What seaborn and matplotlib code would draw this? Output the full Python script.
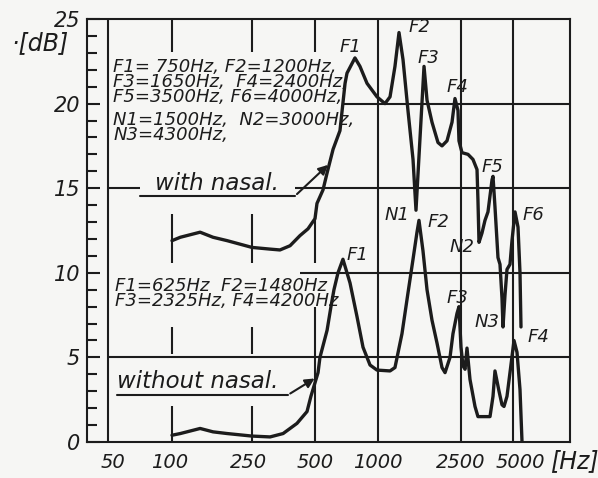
import numpy as np
import matplotlib
matplotlib.use('Agg')
import matplotlib.pyplot as plt
import matplotlib.transforms as mtrans
import seaborn as sns

# ---- data (frequency in Hz, level in dB) ----
freq_nasal = [100, 110, 138, 160, 188, 250, 305, 340, 380, 424, 463, 500, 511, 546,
              571, 610, 658, 696, 711, 776, 820, 886, 989, 1080, 1142, 1206, 1261,
              1318, 1392, 1472, 1521, 1589, 1662, 1718, 1815, 1939, 2027, 2142, 2264,
              2339, 2418, 2445, 2533, 2745, 2933, 3095, 3134, 3178, 3307, 3442, 3582,
              3781, 3830, 3932, 4039, 4093, 4204, 4318, 4376, 4495, 4615, 4803, 4933,
              5124, 5314, 5444, 5510]
db_nasal = [11.9, 12.1, 12.4, 12.1, 11.9, 11.5, 11.4, 11.35, 11.6, 12.2, 12.6, 13.2, 14.1, 14.9,
            15.9, 17.3, 18.4, 21.2, 21.8, 22.7, 22.2, 21.2, 20.4, 20.0, 20.4, 22.2, 24.2,
            22.6, 19.6, 16.7, 13.7, 17.9, 22.2, 20.2, 18.9, 17.7, 17.5, 17.8, 18.9,
            20.3, 19.6, 17.8, 17.1, 17.0, 16.7, 16.1, 14.3, 11.8, 12.35, 13.1, 13.6,
            15.5, 15.7, 13.9, 11.9, 10.9, 10.5, 8.5, 6.8, 8.7, 10.2, 10.5, 11.9,
            13.6, 12.7, 10.0, 6.8]

freq_plain = [100, 110, 138, 160, 188, 250, 305, 352, 410, 458, 478, 517, 528, 571,
              596, 616, 644, 680, 735, 794, 848, 916, 989, 1142, 1206, 1303, 1392,
              1472, 1538, 1572, 1643, 1718, 1815, 1918, 2027, 2096, 2214, 2288, 2392,
              2445, 2500, 2567, 2638, 2708, 2818, 3013, 3134, 3680, 3830, 3932, 4150,
              4318, 4435, 4615, 4803, 5061, 5250, 5444, 5580]
db_plain = [0.4, 0.5, 0.8, 0.6, 0.5, 0.35, 0.3, 0.5, 1.1, 1.8, 2.7, 4.1, 5.0, 6.6,
            8.0, 9.0, 10.0, 10.8, 9.4, 7.4, 5.6, 4.55, 4.25, 4.2, 4.4, 6.4, 8.8,
            10.8, 12.4, 13.1, 11.3, 9.0, 7.2, 5.85, 4.4, 4.1, 5.0, 6.4, 7.6,
            8.0, 5.6, 4.5, 4.3, 5.55, 3.7, 2.1, 1.5, 1.5, 2.7, 4.2, 3.0,
            2.2, 2.1, 2.7, 4.1, 6.0, 5.3, 3.1, 0.0]

tick_freqs = [50, 100, 250, 500, 1000, 2500, 5000]
tick_labels = ['50', '100', '250', '500', '1000', '2500', '5000']
tick_shift = [5, -2, -4, 0, 0, 0, 7]  # hand lettering sits a bit off the lines

# hand drawn frequency axis: roughly logarithmic, spacing as in the original
axis_freqs = [40, 50, 100, 250, 500, 1000, 2500, 5000, 10000]
axis_pos = [87, 108, 172, 252, 315, 378, 461, 513, 570]
log_f = np.log10(axis_freqs)


def fwd(x):
    x = np.clip(np.asarray(x, dtype=float), 1e-6, None)
    return np.interp(np.log10(x), log_f, axis_pos)


def inv(p):
    return 10 ** np.interp(np.asarray(p, dtype=float), axis_pos, log_f)


sns.set_style('white')
plt.rcParams['font.family'] = ['DejaVu Sans']
paper = '#f6f6f4'
ink = '#1c1c1c'

fig = plt.figure(figsize=(5.98, 4.78), dpi=100, facecolor=paper)
ax = fig.add_axes([87 / 598, 36 / 478, 483 / 598, 423 / 478])
ax.set_facecolor(paper)
ax.set_xscale('function', functions=(fwd, inv))
ax.set_xlim(40, 10000)
ax.set_ylim(0, 25)

# grid, drawn in pieces where the lettering covers it
glw = 1.5
ax.vlines(50, 0, 25, color=ink, lw=glw)
for f in [1000, 2500, 5000]:
    ax.vlines(f, 0, 25, color=ink, lw=glw)
for f in [100, 250]:
    for lo, hi in [(23.05, 25), (10.6, 13.5), (5.2, 6.8), (0, 2.1)]:
        ax.vlines(f, lo, hi, color=ink, lw=glw)
for lo, hi in [(23.05, 25), (10.6, 13.3), (0, 8.0)]:
    ax.vlines(500, lo, hi, color=ink, lw=glw)
ax.hlines(5, 50, 10000, color=ink, lw=glw)
ax.hlines(10, 424, 10000, color=ink, lw=glw)
ax.hlines(15, 50, 70.7, color=ink, lw=glw)
ax.hlines(15, 401, 10000, color=ink, lw=glw)
ax.hlines(20, 680, 10000, color=ink, lw=glw)

sns.lineplot(x=freq_nasal, y=db_nasal, sort=False, estimator=None, color=ink, lw=2.4, ax=ax)
sns.lineplot(x=freq_plain, y=db_plain, sort=False, estimator=None, color=ink, lw=2.4, ax=ax)

for s in ax.spines.values():
    s.set_color(ink)
    s.set_linewidth(glw)

ax.set_xticks(tick_freqs)
ax.set_xticklabels(tick_labels)
ax.xaxis.set_minor_locator(matplotlib.ticker.NullLocator())
ax.tick_params(axis='x', length=0, pad=8, labelsize=14, labelcolor=ink)
for lab, dx in zip(ax.get_xticklabels(), tick_shift):
    lab.set_transform(lab.get_transform() +
                      mtrans.ScaledTranslation(dx / 100, 0, fig.dpi_scale_trans))
ax.set_yticks(range(0, 26, 5))
ax.set_yticks(range(0, 26), minor=True)
ax.tick_params(axis='y', which='major', direction='in', length=9.5, width=glw,
               color=ink, pad=5, labelsize=15, labelcolor=ink, left=True)
ax.tick_params(axis='y', which='minor', direction='in', length=7, width=glw,
               color=ink, left=True)
for lab in ax.get_xticklabels() + ax.get_yticklabels():
    lab.set_fontstyle('italic')

fig.text(40 / 598, 1 - 43 / 478, '·[dB]', fontsize=17, style='italic', color=ink,
         ha='center', va='center')
fig.text(574 / 598, 1 - 461 / 478, '[Hz]', fontsize=17, style='italic', color=ink,
         ha='center', va='center')

# formant lists
tkw = dict(fontsize=13, style='italic', color=ink, va='center', ha='left', linespacing=0.78)
ax.text(52.8, 21.28, 'F1= 750Hz, F2=1200Hz,\nF3=1650Hz,  F4=2400Hz,\nF5=3500Hz, F6=4000Hz,', **tkw)
ax.text(52.8, 18.59, 'N1=1500Hz,  N2=3000Hz,\nN3=4300Hz,', **tkw)
ax.text(54, 8.8, 'F1=625Hz  F2=1480Hz\nF3=2325Hz, F4=4200Hz', **tkw)

lkw = dict(fontsize=16.5, style='italic', color=ink, va='center', ha='left')
ax.text(83, 15.3, 'with nasal.', **lkw)
ax.text(55, 3.55, 'without nasal.', **lkw)

# underlines with arrows to the curves
ax.plot([70.7, 401], [14.54, 14.54], color=ink, lw=1.5)
ax.annotate('', xy=(590, 16.49), xytext=(401, 14.54),
            arrowprops=dict(arrowstyle='-|>', color=ink, lw=1.5, mutation_scale=14))
ax.plot([55.1, 371], [2.78, 2.78], color=ink, lw=1.5)
ax.annotate('', xy=(511, 3.84), xytext=(371, 2.78),
            arrowprops=dict(arrowstyle='-|>', color=ink, lw=1.5, mutation_scale=14))

# peak / notch names
pkw = dict(fontsize=13, style='italic', color=ink, va='center', ha='center')
for name, f, y in [('F1', 735, 23.35), ('F2', 1589, 24.5), ('F3', 1737, 22.7),
                   ('F4', 2392, 21.0), ('F5', 3781, 16.25), ('F6', 6376, 13.4),
                   ('N1', 1233, 13.4), ('N2', 2533, 11.5), ('N3', 3536, 7.1),
                   ('F1', 794, 11.05), ('F2', 1939, 13.0), ('F3', 2392, 8.5),
                   ('F4', 6776, 6.2)]:
    ax.text(f, y, name, **pkw)

plt.savefig('out.png', dpi=100, facecolor=paper)
